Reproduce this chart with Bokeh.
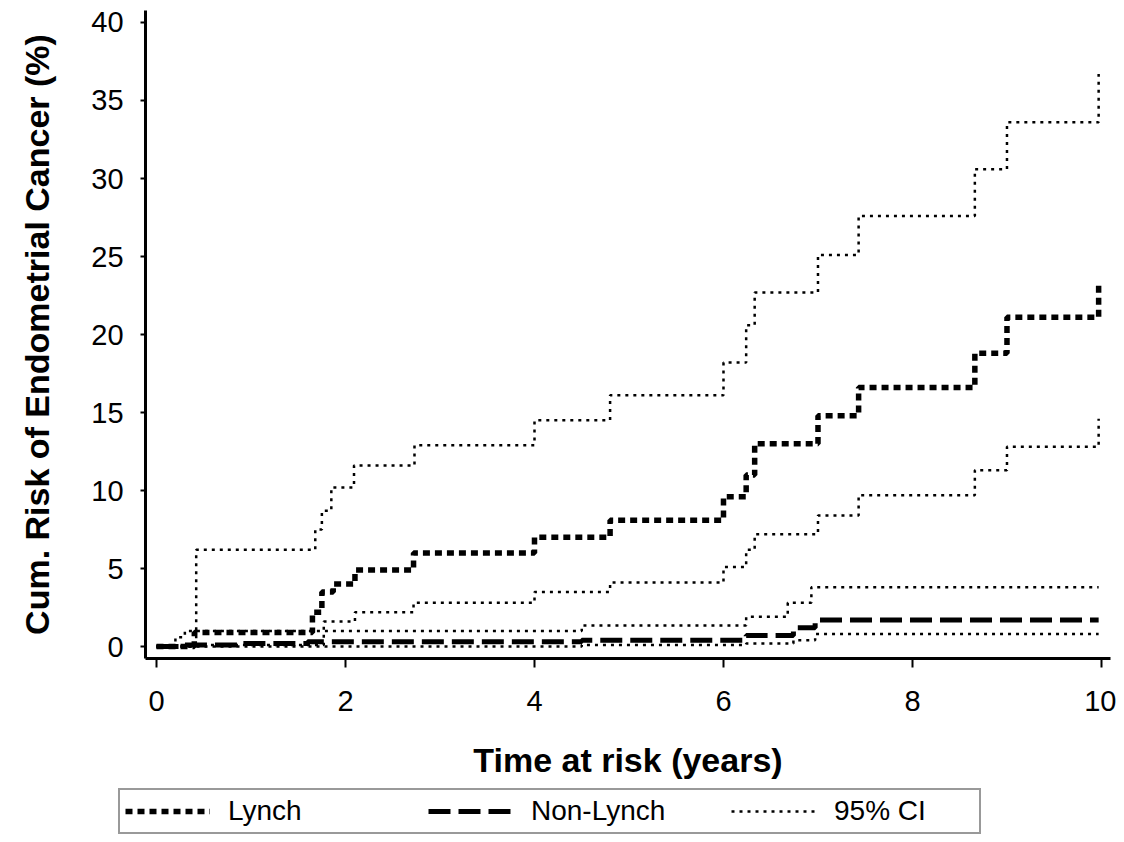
from bokeh.plotting import figure
from bokeh.models import Range1d, FixedTicker, Legend, LegendItem
from bokeh.embed import file_html
from bokeh.resources import INLINE

# ---- data ----
lynch_t = [0, 0.40, 1.65, 1.75, 1.87, 2.10, 2.72, 4.00, 4.80, 6.00, 6.24, 6.33, 7.00, 7.43, 8.66, 9.00, 9.97]
lynch_v = [0, 0.9, 2.2, 3.5, 4.0, 4.9, 6.0, 7.0, 8.1, 9.6, 11.0, 13.0, 14.8, 16.6, 18.8, 21.1, 23.4]

lynch_hi_t = [0, 0.42, 1.68, 1.75, 1.85, 2.09, 2.73, 4.00, 4.80, 6.00, 6.24, 6.33, 7.00, 7.43, 8.66, 9.00, 9.97]
lynch_hi_v = [0, 6.2, 7.5, 8.7, 10.2, 11.6, 12.9, 14.5, 16.1, 18.2, 20.6, 22.7, 25.1, 27.6, 30.6, 33.6, 36.7]

lynch_lo_t = [0, 0.40, 1.77, 2.10, 2.72, 4.00, 4.80, 6.00, 6.24, 6.33, 7.00, 7.43, 8.66, 9.00, 9.97]
lynch_lo_v = [0, 0.1, 1.6, 2.2, 2.8, 3.5, 4.1, 5.1, 6.2, 7.2, 8.4, 9.7, 11.3, 12.8, 14.6]

nonlynch_t = [0, 0.30, 0.90, 1.60, 4.50, 6.24, 6.74, 6.97, 9.97]
nonlynch_v = [0, 0.1, 0.2, 0.3, 0.4, 0.7, 1.2, 1.7, 1.7]

nonlynch_lo_t = [0, 4.50, 6.24, 6.74, 6.97, 9.97]
nonlynch_lo_v = [0, 0.1, 0.2, 0.4, 0.8, 0.8]

nonlynch_hi_t = [0, 0.20, 0.30, 4.50, 6.24, 6.68, 6.93, 9.97]
nonlynch_hi_v = [0, 0.6, 1.0, 1.35, 1.9, 2.8, 3.8, 3.8]

x_ticks = [0, 2, 4, 6, 8, 10]
y_ticks = [0, 5, 10, 15, 20, 25, 30, 35, 40]

FONT = "Liberation Sans"

# axes extents (data units)
X_LO, X_HI = -0.116, 10.095
Y_LO, Y_HI = -0.77, 40.77

p = figure(width=1116, height=834, output_backend="svg", toolbar_location=None,
           x_range=Range1d(-1.651, 10.159), y_range=Range1d(-12.05, 41.41),
           min_border_left=0, min_border_right=0, min_border_top=0, min_border_bottom=0)
p.outline_line_color = None
p.grid.visible = False
p.background_fill_color = "white"
p.border_fill_color = "white"

ci_style = dict(line_color="black", line_width=2.5, line_dash="3 5")
r_ci = p.step(lynch_hi_t, lynch_hi_v, mode="after", **ci_style)
p.step(lynch_lo_t, lynch_lo_v, mode="after", **ci_style)
p.step(nonlynch_hi_t, nonlynch_hi_v, mode="after", **ci_style)
p.step(nonlynch_lo_t, nonlynch_lo_v, mode="after", **ci_style)
r_nl = p.step(nonlynch_t, nonlynch_v, mode="after", line_color="black", line_width=5, line_dash="22 8")
r_l = p.step(lynch_t, lynch_v, mode="after", line_color="black", line_width=5.5, line_dash="7 5")

for ax in (p.xaxis[0], p.yaxis[0]):
    ax.axis_line_width = 3
    ax.major_tick_line_width = 2
    ax.major_tick_in = 0
    ax.minor_tick_line_color = None
    ax.major_label_text_font = FONT
    ax.major_label_text_font_size = "29px"
    ax.major_label_text_color = "black"
    ax.axis_label_text_font = FONT
    ax.axis_label_text_font_style = "bold"
    ax.axis_label_text_font_size = "34px"
    ax.axis_label_text_color = "black"

p.xaxis.fixed_location = Y_LO
p.xaxis.bounds = (X_LO, X_HI)
p.yaxis.fixed_location = X_LO
p.yaxis.bounds = (Y_LO, Y_HI)

p.xaxis.ticker = FixedTicker(ticks=x_ticks)
p.yaxis.ticker = FixedTicker(ticks=y_ticks)
p.xaxis.major_tick_out = 9
p.yaxis.major_tick_out = 5
p.xaxis.major_label_standoff = 23
p.yaxis.major_label_standoff = 17
p.xaxis.axis_label = "Time at risk (years)"
p.yaxis.axis_label = "Cum. Risk of Endometrial Cancer (%)"
p.xaxis.axis_label_standoff = 27
p.yaxis.axis_label_standoff = 32

legend = Legend(items=[LegendItem(label="Lynch", renderers=[r_l]),
                       LegendItem(label="Non-Lynch", renderers=[r_nl]),
                       LegendItem(label="95% CI", renderers=[r_ci])],
                orientation="horizontal", location=(118, 0),
                glyph_width=85, glyph_height=28, label_standoff=18, label_width=140,
                spacing=60, padding=5, margin=0,
                label_text_font=FONT, label_text_font_size="28px", label_text_color="black",
                border_line_color="#333333", border_line_width=2,
                background_fill_color="white", background_fill_alpha=1.0)
p.add_layout(legend, "center")

open("out.html", "w").write(file_html(p, INLINE))
